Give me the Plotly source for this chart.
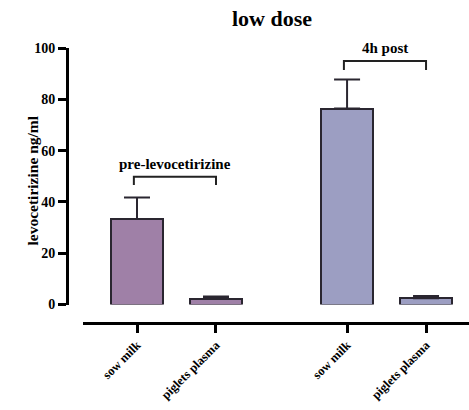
import plotly.graph_objects as go

# Levocetirizine concentrations, low dose
groups = ["pre-levocetirizine", "4h post"]
samples = ["sow milk", "piglets plasma"]
means = [[33.3, 2.3], [76.4, 2.4]]
sds = [[8.4, 0.8], [11.3, 0.9]]
fills = ["#9f80a7", "#9c9ec2"]

W, H = 469, 410
STEP = 2.66  # distance between group starts, in bar-slot units

fig = go.Figure()
tickvals, ticktext = [], []
for gi, g in enumerate(groups):
    xs = [gi * STEP + si for si in range(len(samples))]
    tickvals += xs
    ticktext += samples
    fig.add_trace(go.Bar(
        x=xs, y=means[gi], width=0.66,
        marker=dict(color=fills[gi], line=dict(color="#2a2630", width=2)),
        error_y=dict(type="data", array=sds[gi], arrayminus=[0] * len(xs),
                     symmetric=False, color="#2a2630", thickness=2, width=13),
        showlegend=False,
    ))

font_family = "Liberation Serif"

fig.update_layout(
    width=W, height=H,
    margin=dict(l=0, r=0, t=0, b=0, autoexpand=False),
    plot_bgcolor="white", paper_bgcolor="white",
    font=dict(family=font_family, color="black"),
    bargap=0,
    title=dict(text="<b>low dose</b>", x=272 / W, xanchor="center", y=1 - 18 / H, yanchor="middle",
               font=dict(size=22, family=font_family)),
    xaxis=dict(
        range=[-0.684, tickvals[-1] + 0.544],
        domain=[83 / W, 1.0],
        anchor="free", position=(H - 323) / H,
        tickmode="array", tickvals=tickvals,
        ticktext=[f"<b>{t}</b>" for t in ticktext],
        tickangle=-45, ticks="outside", ticklen=8, tickwidth=2.5, tickcolor="black",
        showline=True, linecolor="black", linewidth=3,
        showgrid=False, zeroline=False, automargin=False,
        tickfont=dict(size=12.5, family=font_family),
    ),
    yaxis=dict(
        range=[0, 100],
        domain=[(H - 304.5) / H, (H - 48) / H],
        anchor="free", position=67 / W,
        tickvals=[0, 20, 40, 60, 80, 100],
        ticktext=[f"<b>{v}</b>" for v in [0, 20, 40, 60, 80, 100]],
        ticks="outside", ticklen=8, tickwidth=2.5, tickcolor="black",
        showline=True, linecolor="black", linewidth=3,
        showgrid=False, zeroline=False, automargin=False,
        tickfont=dict(size=14, family=font_family),
    ),
)

# Y-axis title
fig.add_annotation(
    text="<b>levocetirizine ng/ml</b>", textangle=-90,
    xref="paper", yref="paper", x=22 / W, y=(H - 181) / H,
    showarrow=False, font=dict(size=15.5, family=font_family),
)

# Group brackets with labels
bracket_y = [(49.8, 46.6), (94.9, 91.4)]
for gi, g in enumerate(groups):
    x0 = gi * STEP - 0.04
    x1 = gi * STEP + 1.0
    top, leg = bracket_y[gi]
    fig.add_shape(type="path",
                  path=f"M {x0} {leg} L {x0} {top} L {x1} {top} L {x1} {leg}",
                  xref="x", yref="y", line=dict(color="#222", width=2))
    fig.add_annotation(text=f"<b>{g}</b>", x=(x0 + x1) / 2, y=top, xref="x", yref="y",
                       yanchor="bottom", yshift=3, showarrow=False,
                       font=dict(size=15, family=font_family))

fig.write_html("out.html")
